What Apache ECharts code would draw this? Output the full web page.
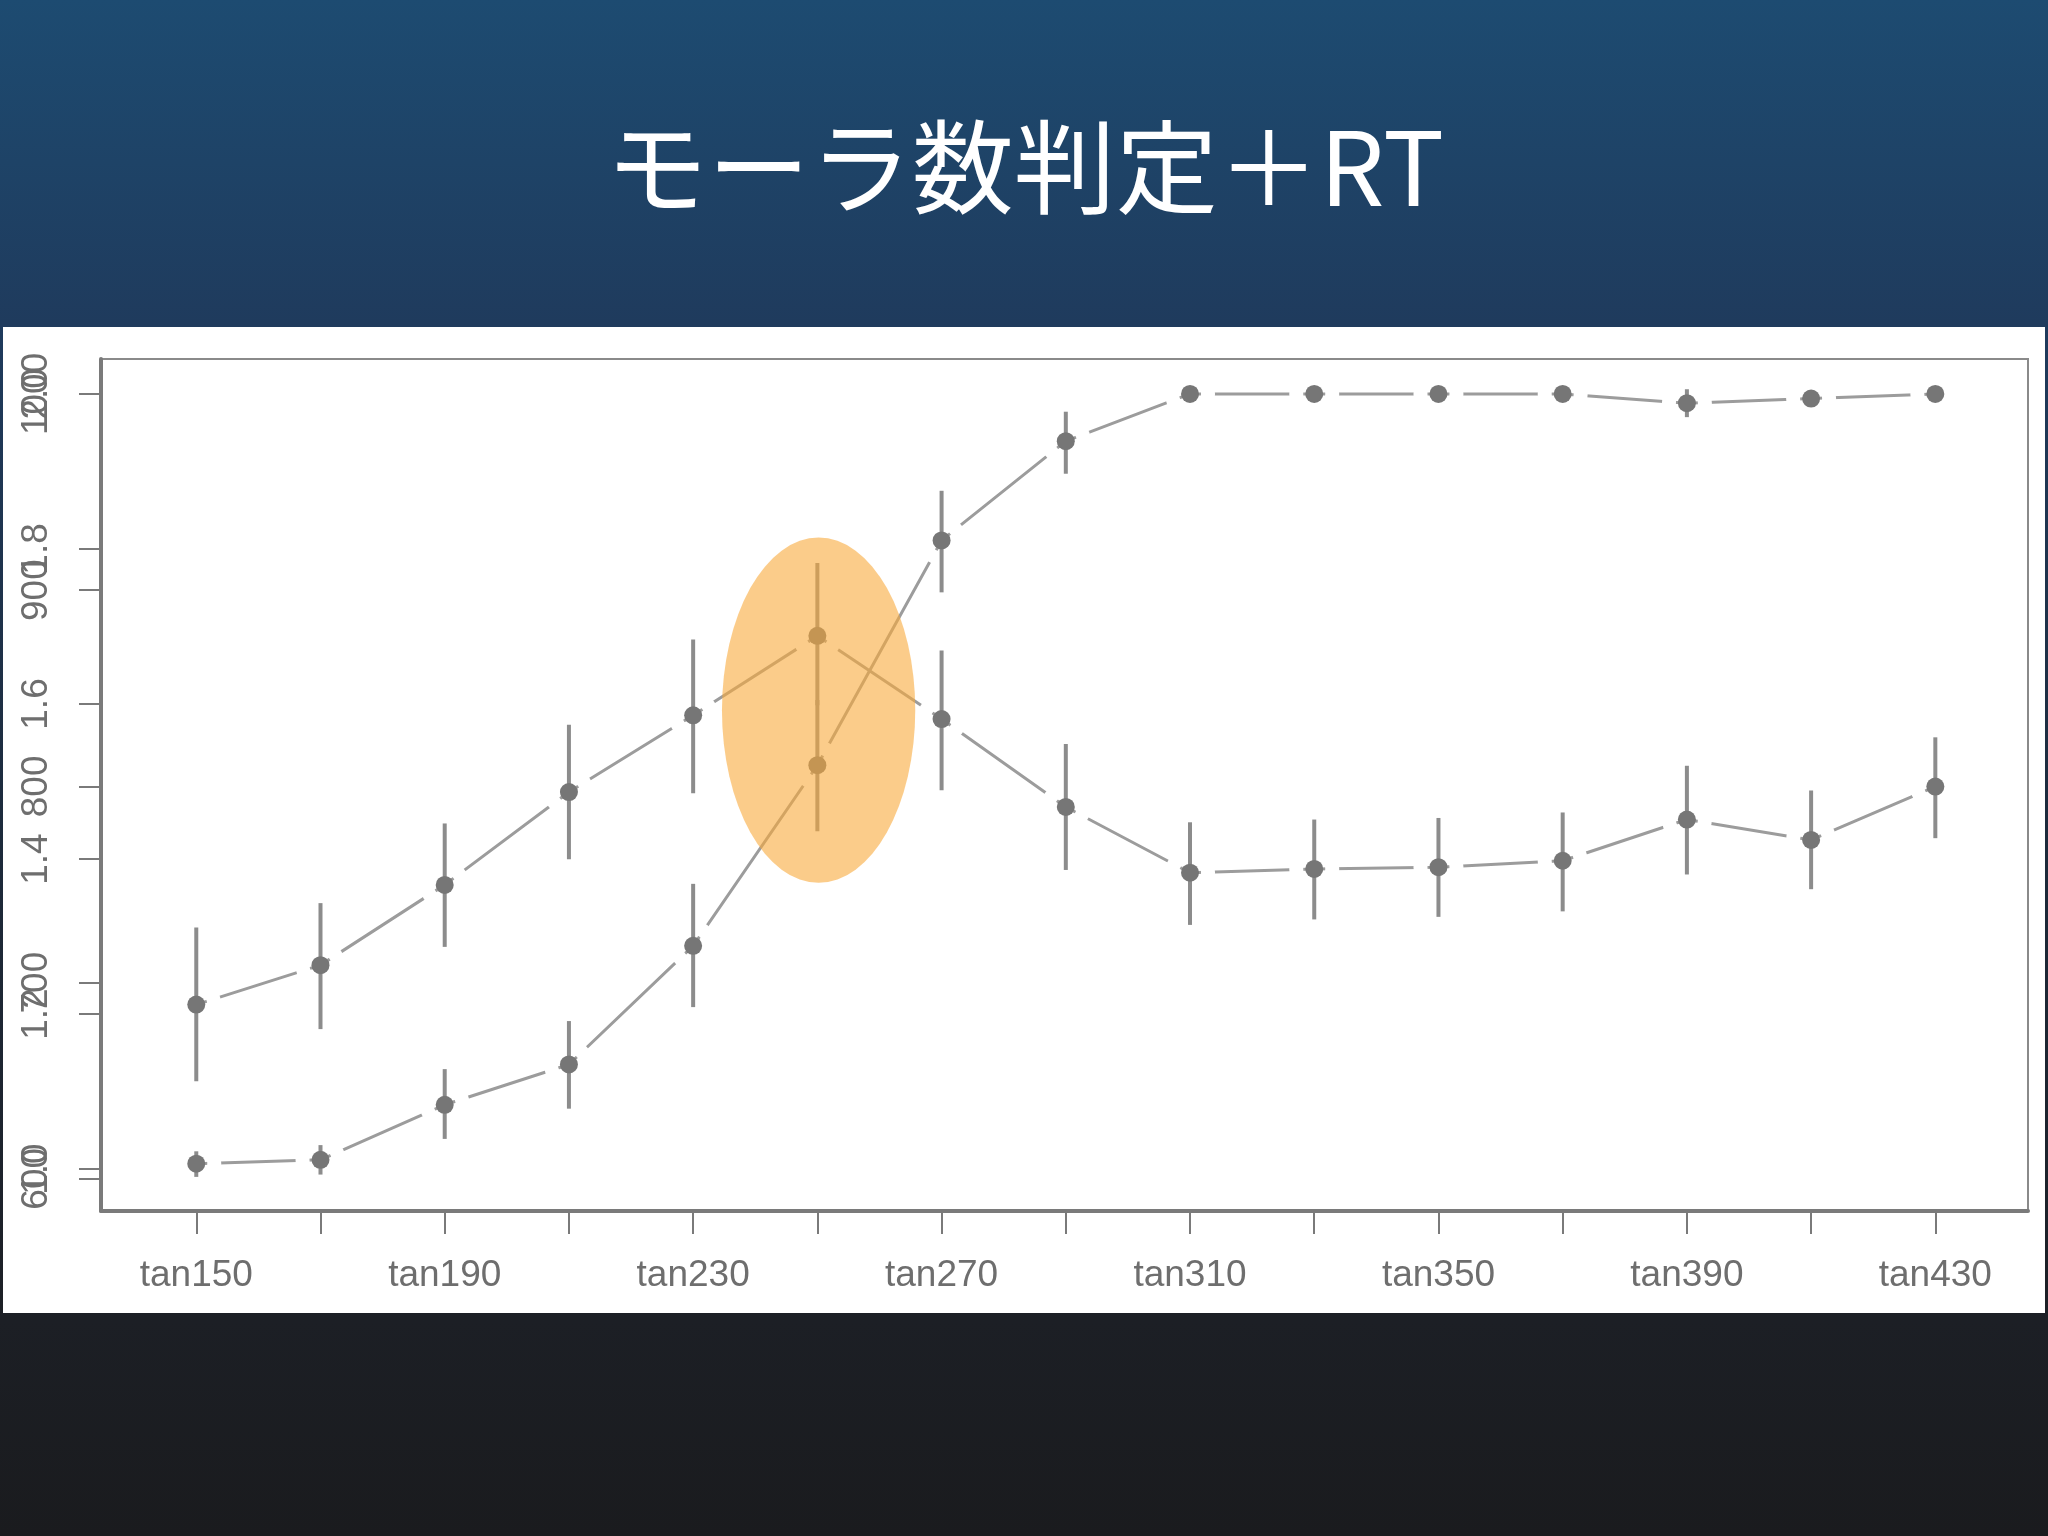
<!doctype html>
<html>
<head>
<meta charset="utf-8" />
<script src="https://cdn.jsdelivr.net/npm/echarts@6/dist/echarts.min.js"></script>
<style>
html, body { margin: 0; padding: 0; }
#charts { width: 2048px; height: 1536px; }
</style>
</head>
<body>
<div id="charts"></div>
<script>
// stimulus steps (x axis), every other one is labelled
const categories = ["tan150", "tan170", "tan190", "tan210", "tan230", "tan250", "tan270", "tan290",
    "tan310", "tan330", "tan350", "tan370", "tan390", "tan410", "tan430"];

// mora count judgement (scale 1.0 - 2.0)
const moraMean  = [1.007, 1.012, 1.083, 1.135, 1.288, 1.521, 1.811, 1.939, 2.0, 2.0, 2.0, 2.0, 1.988, 1.994, 2.0];
const moraLower = [0.990, 0.993, 1.039, 1.078, 1.209, 1.436, 1.744, 1.897, 1.998, 1.998, 1.998, 1.998, 1.970, 1.987, 1.998];
const moraUpper = [1.023, 1.031, 1.129, 1.191, 1.368, 1.605, 1.875, 1.977, 2.002, 2.002, 2.002, 2.002, 2.006, 2.004, 2.002];

// reaction time in ms (scale 600 - 1000)
const rtMean  = [688.8, 708.9, 749.8, 797.1, 836.2, 876.7, 834.3, 789.5, 756.0, 757.9, 758.8, 762.1, 783.1, 772.7, 799.9];
const rtLower = [649.7, 676.3, 718.2, 762.9, 796.5, 841.3, 798.0, 757.4, 729.4, 732.2, 733.5, 736.3, 755.1, 747.6, 773.6];
const rtUpper = [728.1, 740.5, 781.1, 831.4, 874.8, 913.9, 869.3, 821.6, 781.7, 783.1, 783.9, 786.7, 810.5, 797.9, 825.0];

const rtTicks = [600, 700, 800, 900, 1000];
const moraTicks = [1.0, 1.2, 1.4, 1.6, 1.8, 2.0];
const xTicks = [0, 1, 2, 3, 4, 5, 6, 7, 8, 9, 10, 11, 12, 13, 14];
const xLabelTicks = [0, 2, 4, 6, 8, 10, 12, 14];

const GRAY_LINE = '#9c9c9c';
const GRAY_PT = '#767676';
const GRAY_BAR = '#8c8c8c';
const LABEL_FONT = {
    color: '#6e6e6e',
    fontFamily: 'Liberation Sans',
    fontSize: 37
};

function pairs(vals) {
    return vals.map((v, i) => [i, v]);
}

function bars(lo, hi) {
    return lo.map((v, i) => [i, v, hi[i]]);
}

function renderBar(params, api) {
    let a = api.coord([api.value(0), api.value(1)]);
    let b = api.coord([api.value(0), api.value(2)]);
    return {
        type: 'line',
        shape: { x1: a[0], y1: a[1], x2: b[0], y2: b[1] },
        style: { stroke: GRAY_BAR, lineWidth: 4 }
    };
}

// lines with white rings round the points, so the segments stop short of them
function lineSeries(data, yIdx) {
    return {
        type: 'line',
        yAxisIndex: yIdx,
        data: data,
        z: 2,
        silent: true,
        lineStyle: { color: GRAY_LINE, width: 3 },
        symbol: 'circle',
        symbolSize: 14,
        itemStyle: { color: '#fff', borderColor: '#fff', borderWidth: 36 }
    };
}

function barSeries(data, yIdx) {
    return {
        type: 'custom',
        yAxisIndex: yIdx,
        data: data,
        z: 3,
        silent: true,
        renderItem: renderBar
    };
}

function pointSeries(data, yIdx) {
    return {
        type: 'scatter',
        yAxisIndex: yIdx,
        data: data,
        z: 4,
        silent: true,
        symbol: 'circle',
        symbolSize: 18,
        itemStyle: { color: GRAY_PT, opacity: 1 }
    };
}

let myChart = echarts.init(document.getElementById('charts'));

let options = {
    animation: false,
    backgroundColor: {
        type: 'linear', x: 0, y: 0, x2: 0, y2: 1,
        colorStops: [
            { offset: 0, color: '#1d4b71' },
            { offset: 0.21, color: '#1f3b5d' },
            { offset: 0.55, color: '#1d2a3b' },
            { offset: 0.86, color: '#1c1f25' },
            { offset: 1, color: '#1a1b1e' }
        ]
    },
    graphic: [{
        id: 'panel',
        type: 'rect',
        z: -10,
        shape: { x: 3, y: 327, width: 2042, height: 986 },
        style: { fill: '#ffffff' }
    }, {
        id: 'title',
        type: 'text',
        x: 1025,
        y: 167,
        style: {
            text: 'モーラ数判定＋RT',
            fill: '#ffffff',
            font: '102px "Noto Sans CJK JP"',
            textAlign: 'center',
            textVerticalAlign: 'middle'
        }
    }],
    grid: {
        left: 101,
        top: 359,
        right: 20,
        bottom: 325,
        show: true,
        borderColor: '#8a8a8a',
        borderWidth: 2,
        backgroundColor: 'transparent'
    },
    xAxis: {
        type: 'value',
        min: -0.767,
        max: 14.746,
        splitLine: { show: false },
        axisLine: { show: true, onZero: false, lineStyle: { color: '#7a7a7a', width: 4 } },
        axisTick: {
            show: true,
            customValues: xTicks,
            length: 23,
            lineStyle: { color: '#7a7a7a', width: 2 }
        },
        axisLabel: Object.assign({
            customValues: xLabelTicks,
            margin: 46,
            formatter: v => categories[Math.round(v)]
        }, LABEL_FONT)
    },
    yAxis: [{
        type: 'value',
        position: 'left',
        min: 583.6,
        max: 1017.8,
        splitLine: { show: false },
        axisLine: { show: true, onZero: false, lineStyle: { color: '#7a7a7a', width: 4 } },
        axisTick: {
            show: true,
            customValues: rtTicks,
            length: 22,
            lineStyle: { color: '#7a7a7a', width: 2 }
        },
        axisLabel: Object.assign({
            customValues: rtTicks,
            rotate: 90,
            margin: 46,
            formatter: v => String(Math.round(v))
        }, LABEL_FONT)
    }, {
        type: 'value',
        position: 'left',
        offset: 0,
        min: 0.946,
        max: 2.045,
        splitLine: { show: false },
        axisLine: { show: false, onZero: false },
        axisTick: {
            show: true,
            customValues: moraTicks,
            length: 22,
            lineStyle: { color: '#7a7a7a', width: 2 }
        },
        axisLabel: Object.assign({
            customValues: moraTicks,
            rotate: 90,
            margin: 46,
            formatter: v => v.toFixed(1)
        }, LABEL_FONT)
    }],
    series: [
        lineSeries(pairs(moraMean), 1),
        lineSeries(pairs(rtMean), 0),
        barSeries(bars(moraLower, moraUpper), 1),
        barSeries(bars(rtLower, rtUpper), 0),
        pointSeries(pairs(moraMean), 1),
        pointSeries(pairs(rtMean), 0)
    ]
};

myChart.setOption(options);

// orange highlight around the category boundary (tan250)
let c = myChart.convertToPixel({ xAxisIndex: 0, yAxisIndex: 1 }, [5.01, 1.592]);
let e = myChart.convertToPixel({ xAxisIndex: 0, yAxisIndex: 1 }, [5.01 + 0.778, 1.592 + 0.2227]);
let rx = e[0] - c[0];
let ry = c[1] - e[1];
myChart.setOption({
    graphic: [{
        id: 'highlight',
        type: 'circle',
        z: 100,
        x: c[0],
        y: c[1],
        scaleX: rx / ry,
        shape: { cx: 0, cy: 0, r: ry },
        style: { fill: 'rgba(248,170,60,0.6)' }
    }]
});
</script>
</body>
</html>
